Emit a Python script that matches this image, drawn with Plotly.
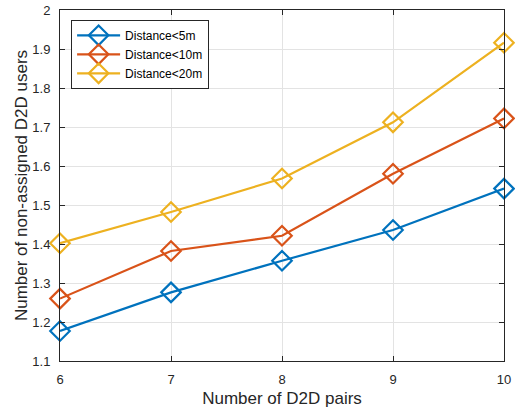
import plotly.graph_objects as go

x_pairs = [6, 7, 8, 9, 10]
d5 = [1.177, 1.276, 1.357, 1.436, 1.542]
d10 = [1.26, 1.382, 1.421, 1.58, 1.722]
d20 = [1.402, 1.482, 1.568, 1.712, 1.916]
names = ["Distance<5m", "Distance<10m", "Distance<20m"]
colors = ["#0072BD", "#D95319", "#EDB120"]
xticks = [6, 7, 8, 9, 10]
yticks = [1.1, 1.2, 1.3, 1.4, 1.5, 1.6, 1.7, 1.8, 1.9, 2.0]
yticktext = ["1.1", "1.2", "1.3", "1.4", "1.5", "1.6", "1.7", "1.8", "1.9", "2"]

FONT = "Liberation Sans, Arial, sans-serif"

fig = go.Figure()
for ys, nm, c in zip([d5, d10, d20], names, colors):
    fig.add_trace(go.Scatter(
        x=x_pairs, y=ys, name=nm, mode="lines+markers",
        line=dict(color=c, width=2.2),
        marker=dict(symbol="diamond-open", size=15, color=c, line=dict(width=2.2, color=c)),
        cliponaxis=False,
    ))

axis_common = dict(
    showline=True, linecolor="#262626", linewidth=1, mirror="ticks",
    ticks="inside", ticklen=5, tickcolor="#262626",
    showgrid=True, gridcolor="#E3E3E3", gridwidth=1, zeroline=False,
    automargin=False,
    tickfont=dict(family=FONT, size=13, color="#262626"),
)

fig.update_layout(
    width=515, height=408,
    margin=dict(l=60, r=11, t=10, b=47),
    paper_bgcolor="white", plot_bgcolor="white",
    font=dict(family=FONT, color="#262626"),
    xaxis=dict(range=[6, 10], tickvals=xticks, ticklabelstandoff=6,
               title=dict(text="Number of D2D pairs", font=dict(family=FONT, size=17), standoff=7),
               **axis_common),
    yaxis=dict(range=[1.1, 2.0], tickvals=yticks, ticktext=yticktext, ticklabelstandoff=6,
               title=dict(text="Number of non-assigned D2D users", font=dict(family=FONT, size=17), standoff=0),
               **axis_common),
    legend=dict(x=0.025, y=0.972, xanchor="left", yanchor="top",
                bgcolor="white", bordercolor="#262626", borderwidth=1, itemwidth=43,
                font=dict(family=FONT, size=12, color="black"), tracegroupgap=0),
    showlegend=True,
)

fig.write_html("out.html", config={"displayModeBar": False},
               post_script="document.body.style.margin='0';document.body.style.padding='0';")
